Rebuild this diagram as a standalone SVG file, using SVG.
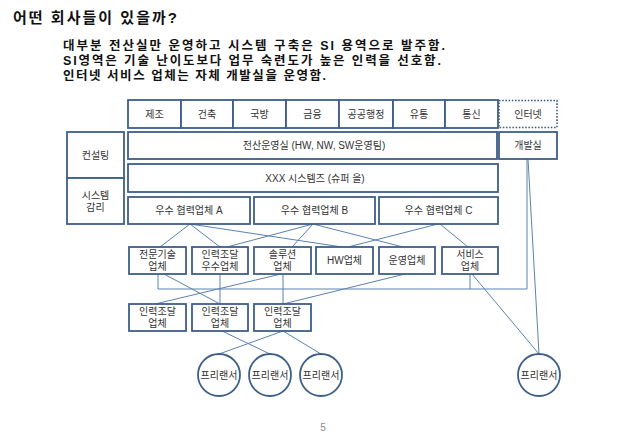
<svg xmlns="http://www.w3.org/2000/svg" width="638" height="442" viewBox="0 0 638 442">
<style>
.bx{fill:#fff;stroke:#3d5f8a;stroke-width:1.8}
.dot{fill:#fff;stroke:#3d5f8a;stroke-width:1.6;stroke-dasharray:1.6 1.6}
.ln{fill:none;stroke:#5a82b0;stroke-width:1}
.t{font-family:"Liberation Sans","Noto Sans CJK KR",sans-serif;font-size:10px;fill:#333;text-anchor:middle;dominant-baseline:central}
.h{font-family:"Liberation Sans","Noto Sans CJK KR",sans-serif;font-weight:bold;fill:#111}
</style>
<rect width="638" height="442" fill="#fff"/>
<text class="h" x="13" y="23" font-size="15" textLength="164" lengthAdjust="spacing">어떤 회사들이 있을까?</text>
<g id="intro">
<text class="h" x="63" y="50" font-size="12.5" textLength="382" lengthAdjust="spacing">대부분 전산실만 운영하고 시스템 구축은 SI 용역으로 발주함.</text>
<text class="h" x="63" y="65" font-size="12.5" textLength="378" lengthAdjust="spacing">SI영역은 기술 난이도보다 업무 숙련도가 높은 인력을 선호함.</text>
<text class="h" x="63" y="80" font-size="12.5" textLength="263" lengthAdjust="spacing">인터넷 서비스 업체는 자체 개발실을 운영함.</text>
</g>
<g id="connectors">
<line class="ln" x1="190" y1="224" x2="160" y2="247"/>
<line class="ln" x1="190" y1="224" x2="220" y2="247"/>
<line class="ln" x1="190" y1="224" x2="342" y2="247"/>
<line class="ln" x1="313" y1="224" x2="227" y2="247"/>
<line class="ln" x1="313" y1="224" x2="292" y2="247"/>
<line class="ln" x1="313" y1="224" x2="403" y2="247"/>
<line class="ln" x1="438" y1="224" x2="348" y2="247"/>
<line class="ln" x1="440" y1="224" x2="468" y2="247"/>
<line class="ln" x1="528" y1="159" x2="539" y2="354"/>
<polyline class="ln" points="158,274 158,289 527,289 527,159"/>
<line class="ln" x1="470" y1="274" x2="470" y2="289"/>
<line class="ln" x1="164" y1="274" x2="220" y2="304"/>
<line class="ln" x1="220" y1="274" x2="220" y2="304"/>
<line class="ln" x1="281" y1="274" x2="155" y2="304"/>
<line class="ln" x1="283" y1="274" x2="283" y2="304"/>
<line class="ln" x1="405" y1="274" x2="283" y2="304"/>
<line class="ln" x1="472" y1="274" x2="539" y2="354"/>
<line class="ln" x1="222" y1="331" x2="270" y2="354"/>
<line class="ln" x1="283" y1="331" x2="219" y2="354"/>
<line class="ln" x1="283" y1="331" x2="321" y2="354"/>
</g>
<g id="n-jejo"><rect class="bx" x="128" y="100" width="53" height="28"/><text class="t" x="154.5" y="114">제조</text></g>
<g id="n-geonchuk"><rect class="bx" x="181" y="100" width="52" height="28"/><text class="t" x="207" y="114">건축</text></g>
<g id="n-gukbang"><rect class="bx" x="233" y="100" width="53" height="28"/><text class="t" x="259.5" y="114">국방</text></g>
<g id="n-geumyung"><rect class="bx" x="286" y="100" width="53" height="28"/><text class="t" x="312.5" y="114">금융</text></g>
<g id="n-gonggong"><rect class="bx" x="339" y="100" width="54" height="28"/><text class="t" x="366" y="114">공공행정</text></g>
<g id="n-yutong"><rect class="bx" x="393" y="100" width="52" height="28"/><text class="t" x="419" y="114">유통</text></g>
<g id="n-tongsin"><rect class="bx" x="445" y="100" width="53" height="28"/><text class="t" x="471.5" y="114">통신</text></g>
<g id="n-internet"><rect class="dot" x="499" y="100.5" width="58" height="27"/><text class="t" x="528" y="114">인터넷</text></g>
<g id="n-consulting"><rect class="bx" x="67" y="132" width="57" height="46"/><text class="t" x="95.5" y="155">컨설팅</text></g>
<g id="n-audit"><rect class="bx" x="67" y="178" width="57" height="46"/><text class="t" x="95.5" y="195">시스템</text><text class="t" x="95.5" y="207">감리</text></g>
<g id="n-center"><rect class="bx" x="128" y="132" width="369" height="27"/><text class="t" x="314" y="145.5">전산운영실 (HW, NW, SW운영팀)</text></g>
<g id="n-dev"><rect class="bx" x="499" y="132" width="58" height="27"/><text class="t" x="528" y="145.5">개발실</text></g>
<g id="n-xxx"><rect class="bx" x="128" y="164" width="370" height="28"/><text class="t" x="315" y="178">XXX 시스템즈 (슈퍼 을)</text></g>
<g id="n-a"><rect class="bx" x="128" y="197" width="122" height="27"/><text class="t" x="189" y="210.5">우수 협력업체 A</text></g>
<g id="n-b"><rect class="bx" x="254" y="197" width="121" height="27"/><text class="t" x="314.5" y="210.5">우수 협력업체 B</text></g>
<g id="n-c"><rect class="bx" x="379" y="197" width="119" height="27"/><text class="t" x="438.5" y="210.5">우수 협력업체 C</text></g>
<g id="n-tech"><rect class="bx" x="129" y="247" width="57" height="27"/><text class="t" x="157.5" y="254.5">전문기술</text><text class="t" x="157.5" y="266.5">업체</text></g>
<g id="n-staffpro"><rect class="bx" x="192" y="247" width="56" height="27"/><text class="t" x="220" y="254.5">인력조달</text><text class="t" x="220" y="266.5">우수업체</text></g>
<g id="n-solution"><rect class="bx" x="254" y="247" width="57" height="27"/><text class="t" x="282.5" y="254.5">솔루션</text><text class="t" x="282.5" y="266.5">업체</text></g>
<g id="n-hw"><rect class="bx" x="316" y="247" width="57" height="27"/><text class="t" x="344.5" y="260.5">HW업체</text></g>
<g id="n-ops"><rect class="bx" x="379" y="247" width="56" height="27"/><text class="t" x="407" y="260.5">운영업체</text></g>
<g id="n-service"><rect class="bx" x="442" y="247" width="56" height="27"/><text class="t" x="470" y="254.5">서비스</text><text class="t" x="470" y="266.5">업체</text></g>
<g id="n-staff1"><rect class="bx" x="129" y="304" width="57" height="27"/><text class="t" x="157.5" y="311.5">인력조달</text><text class="t" x="157.5" y="323.5">업체</text></g>
<g id="n-staff2"><rect class="bx" x="192" y="304" width="56" height="27"/><text class="t" x="220" y="311.5">인력조달</text><text class="t" x="220" y="323.5">업체</text></g>
<g id="n-staff3"><rect class="bx" x="254" y="304" width="57" height="27"/><text class="t" x="282.5" y="311.5">인력조달</text><text class="t" x="282.5" y="323.5">업체</text></g>
<g id="n-free1"><circle class="bx" cx="219" cy="375" r="21"/><text class="t" x="219" y="375">프리랜서</text></g>
<g id="n-free2"><circle class="bx" cx="270" cy="375" r="21"/><text class="t" x="270" y="375">프리랜서</text></g>
<g id="n-free3"><circle class="bx" cx="321" cy="375" r="21"/><text class="t" x="321" y="375">프리랜서</text></g>
<g id="n-free4"><circle class="bx" cx="539" cy="375" r="21"/><text class="t" x="539" y="375">프리랜서</text></g>
<text x="323" y="427" font-family="'Liberation Sans',sans-serif" font-size="10" fill="#8a8a8a" text-anchor="middle" dominant-baseline="central">5</text>
</svg>
